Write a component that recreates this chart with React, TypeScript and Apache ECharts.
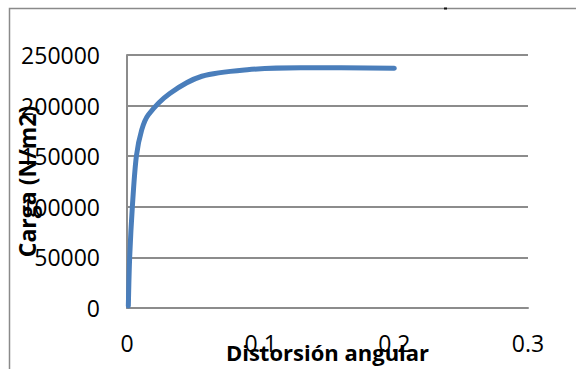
import React, { useEffect, useRef } from "react";
import * as echarts from "echarts";

const distorsion = [0.001, 0.002, 0.004, 0.007, 0.011, 0.016, 0.032, 0.056, 0.09, 0.13, 0.2];
const carga = [2000, 50000, 100000, 150000, 176000, 191000, 212000, 229000, 235500, 237500, 237000];
const xTicks = [0, 0.1, 0.2, 0.3];
const yTicks = [0, 50000, 100000, 150000, 200000, 250000];

const FONT = "'Open Sans', 'DejaVu Sans', sans-serif";

export default function App() {
  const ref = useRef<HTMLDivElement>(null);
  useEffect(() => {
    if (!ref.current) return;
    const chart = echarts.init(ref.current, null, { renderer: "svg" });
    const data = distorsion.map((x, i) => [x, carga[i]]);
    chart.setOption({
      animation: false,
      backgroundColor: "#ffffff",
      grid: { left: 127, top: 55, right: 48, bottom: 61, containLabel: false, outerBoundsMode: "none" },
      graphic: [
        {
          type: "rect",
          shape: { x: 9.5, y: 8.5, width: 700, height: 500 },
          style: { fill: "none", stroke: "#8a8a8a", lineWidth: 1.5 },
          silent: true,
        },
        {
          type: "rect",
          shape: { x: 444, y: 7.5, width: 3, height: 2 },
          style: { fill: "#111111" },
          silent: true,
        },
      ],
      xAxis: {
        type: "value",
        min: xTicks[0],
        max: xTicks[xTicks.length - 1],
        interval: 0.1,
        name: "Distorsión angular",
        nameLocation: "middle",
        nameGap: 33,
        nameMoveOverlap: false,
        nameTextStyle: { fontFamily: FONT, fontSize: 22, fontWeight: "bold", color: "#000" },
        axisLine: { show: true, lineStyle: { color: "#8c8c8c", width: 2 } },
        axisTick: { show: false },
        splitLine: { show: false },
        axisLabel: {
          fontFamily: FONT,
          fontSize: 23,
          color: "#000",
          margin: 23,
          formatter: (v: number) => String(Math.round(v * 10) / 10),
        },
      },
      yAxis: {
        type: "value",
        min: yTicks[0],
        max: yTicks[yTicks.length - 1],
        interval: 50000,
        name: "Carga (N/m2)",
        nameLocation: "middle",
        nameGap: 89,
        nameMoveOverlap: false,
        nameTextStyle: { fontFamily: FONT, fontSize: 23, fontWeight: "bold", color: "#000" },
        axisLine: { show: true, lineStyle: { color: "#8c8c8c", width: 2 } },
        axisTick: { show: false },
        splitLine: { show: true, lineStyle: { color: "#8c8c8c", width: 2 } },
        axisLabel: {
          fontFamily: FONT,
          fontSize: 23,
          color: "#000",
          margin: 27,
          formatter: (v: number) => String(v),
        },
      },
      series: [
        {
          type: "line",
          data,
          smooth: 0.3,
          showSymbol: false,
          lineStyle: { color: "#4A7EBB", width: 5, cap: "round", join: "round" },
          z: 3,
        },
      ],
    });
    return () => chart.dispose();
  }, []);
  return <div ref={ref} style={{ width: 576, height: 369, position: "absolute", left: 0, top: 0 }} />;
}
